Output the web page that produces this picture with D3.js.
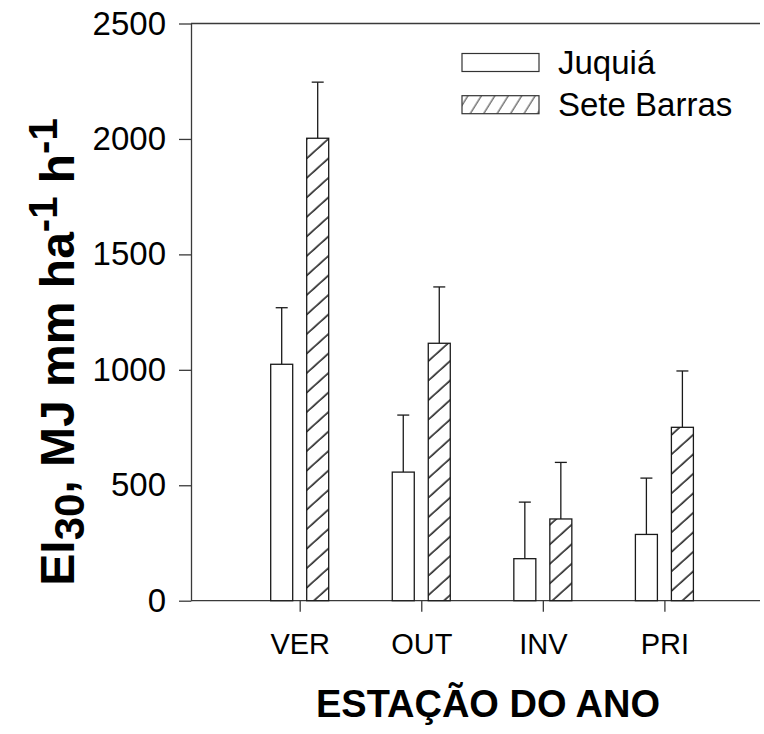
<!DOCTYPE html>
<html>
<head>
<meta charset="utf-8">
<script src="https://cdn.jsdelivr.net/npm/d3@7"></script>
<style>
  html, body { margin: 0; padding: 0; background: #fff; }
  svg { display: block; font-family: Arial, "Liberation Sans", Helvetica, sans-serif; }
</style>
</head>
<body>
<svg id="chart" width="764" height="734"></svg>
<script>
// Seasonal erosivity (EI30) for two stations, with error bars
const seasons = ["VER", "OUT", "INV", "PRI"];
const stations = ["Juquiá", "Sete Barras"];
const juquia = [1024, 557, 182, 287];
const seteBarras = [2003, 1115, 354, 751];
const juquiaErr = [245, 247, 245, 244];
const seteBarrasErr = [243, 244, 245, 244];
const yTicks = [0, 500, 1000, 1500, 2000, 2500];

const svg = d3.select("#chart");

const axisLeftX = 191, axisRightX = 760;
const y = d3.scaleLinear().domain([0, 2500]).range([600.7, 23.5]);
const x = d3.scalePoint().domain(seasons).range([299.7, 664.4]);

const barW = 22, offset = 18;
const ink = "#1a1a1a";
const axisInk = "#3a3a3a";
const fontFamily = "Arial, 'Liberation Sans', sans-serif";

// Diagonal hatch fill for Sete Barras bars
const defs = svg.append("defs");
const hatch = defs.append("pattern")
  .attr("id", "hatch")
  .attr("patternUnits", "userSpaceOnUse")
  .attr("width", 10).attr("height", 14.5)
  .attr("patternTransform", "rotate(-42)");
hatch.append("line")
  .attr("x1", 0).attr("x2", 10).attr("y1", 4).attr("y2", 4)
  .attr("stroke", "#2e2e2e").attr("stroke-width", 1.7);

const hatchLegend = defs.append("pattern")
  .attr("id", "hatchLegend")
  .attr("patternUnits", "userSpaceOnUse")
  .attr("width", 10).attr("height", 11.4)
  .attr("patternTransform", "rotate(-58)");
hatchLegend.append("line")
  .attr("x1", 0).attr("x2", 10).attr("y1", 3).attr("y2", 3)
  .attr("stroke", "#444").attr("stroke-width", 1.1);

// Axes
const yAxis = d3.axisLeft(y).tickValues(yTicks).tickFormat(d3.format("d"))
  .tickSize(12).tickSizeOuter(0).tickPadding(13);
const gy = svg.append("g").attr("transform", `translate(${axisLeftX},0)`).call(yAxis);
gy.select(".domain").attr("stroke", axisInk).attr("stroke-width", 1.3);
gy.selectAll(".tick line").attr("stroke", axisInk).attr("stroke-width", 1.3);
gy.selectAll(".tick text").attr("font-size", 33).attr("fill", "#000")
  .attr("font-family", fontFamily);

// Baseline and top frame line
svg.append("line")
  .attr("x1", axisLeftX).attr("x2", axisRightX)
  .attr("y1", y(0)).attr("y2", y(0))
  .attr("stroke", axisInk).attr("stroke-width", 1.3);
svg.append("line")
  .attr("x1", axisLeftX).attr("x2", axisRightX)
  .attr("y1", y(2500)).attr("y2", y(2500))
  .attr("stroke", axisInk).attr("stroke-width", 1.3);

const xAxis = d3.axisBottom(x).tickSize(11).tickSizeOuter(0).tickPadding(22);
const gx = svg.append("g").attr("transform", `translate(0,${y(0)})`).call(xAxis);
gx.select(".domain").remove();
gx.selectAll(".tick line").attr("stroke", axisInk).attr("stroke-width", 1.3);
gx.selectAll(".tick text").attr("font-size", 29).attr("fill", "#000")
  .attr("font-family", fontFamily);

// Bars with error bars
const series = [
  { name: stations[0], values: juquia, errs: juquiaErr, dx: -offset, fill: "#fff" },
  { name: stations[1], values: seteBarras, errs: seteBarrasErr, dx: offset, fill: "url(#hatch)" }
];

series.forEach(s => {
  const g = svg.append("g");
  seasons.forEach((season, i) => {
    const cx = x(season) + s.dx;
    const top = y(s.values[i]);
    const capY = y(s.values[i] + s.errs[i]);
    g.append("line")
      .attr("x1", cx).attr("x2", cx).attr("y1", top).attr("y2", capY)
      .attr("stroke", ink).attr("stroke-width", 1.3);
    g.append("line")
      .attr("x1", cx - 6).attr("x2", cx + 6).attr("y1", capY).attr("y2", capY)
      .attr("stroke", ink).attr("stroke-width", 1.3);
    g.append("rect")
      .attr("x", cx - barW / 2).attr("y", top)
      .attr("width", barW).attr("height", y(0) - top)
      .attr("fill", "#fff").attr("stroke", "none");
    g.append("rect")
      .attr("x", cx - barW / 2).attr("y", top)
      .attr("width", barW).attr("height", y(0) - top)
      .attr("fill", s.fill).attr("stroke", ink).attr("stroke-width", 1.3);
  });
});

// Legend
const legend = svg.append("g");
const legendRows = [
  { label: stations[0], fill: "#fff", cy: 62.5 },
  { label: stations[1], fill: "url(#hatchLegend)", cy: 104.7 }
];
legendRows.forEach(r => {
  legend.append("rect")
    .attr("x", 462).attr("y", r.cy - 9).attr("width", 77).attr("height", 18)
    .attr("fill", r.fill).attr("stroke", "#333").attr("stroke-width", 1.2);
  legend.append("text")
    .attr("x", 558).attr("y", r.cy + 11)
    .attr("font-size", 33).attr("fill", "#000")
    .text(r.label);
});

// Axis titles
svg.append("text")
  .attr("x", 488).attr("y", 717)
  .attr("text-anchor", "middle")
  .attr("font-size", 38).attr("font-weight", "bold")
  .text("ESTAÇÃO DO ANO");

const yTitle = svg.append("text")
  .attr("transform", "translate(74,352) rotate(-90)")
  .attr("text-anchor", "middle")
  .attr("font-size", 48).attr("font-weight", "bold");
yTitle.append("tspan").text("EI");
yTitle.append("tspan").attr("dy", 10).attr("font-size", 42).text("30");
yTitle.append("tspan").attr("dy", -10).text(", MJ mm ha");
yTitle.append("tspan").attr("dy", -17).attr("font-size", 40).text("-1");
yTitle.append("tspan").attr("dy", 17).text(" h");
yTitle.append("tspan").attr("dy", -17).attr("font-size", 40).text("-1");
</script>
</body>
</html>
